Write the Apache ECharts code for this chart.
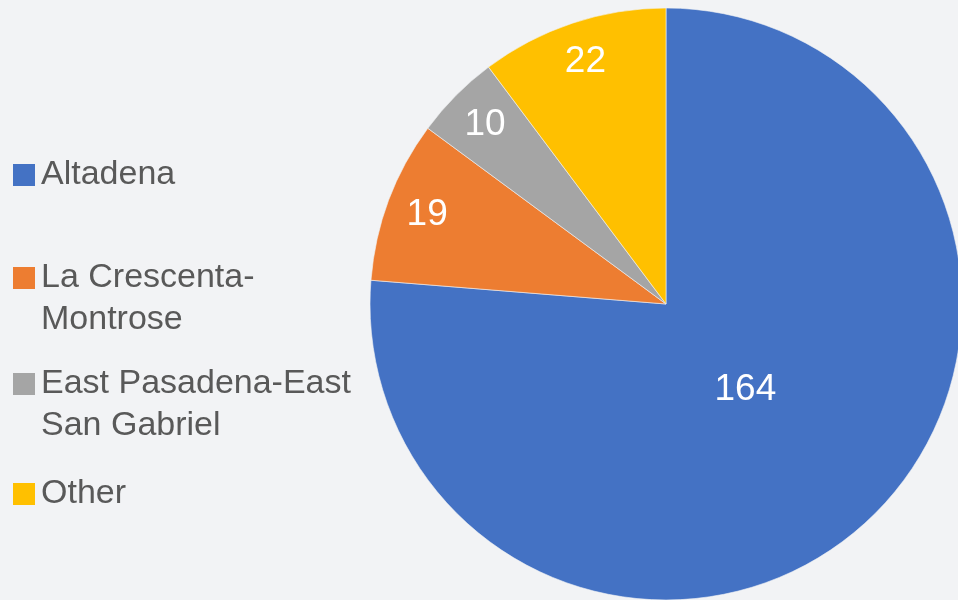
<!DOCTYPE html>
<html>
<head>
<meta charset="utf-8">
<script src="https://cdn.jsdelivr.net/npm/echarts@6/dist/echarts.min.js"></script>
<style>
  html, body { margin: 0; padding: 0; background: #f2f3f5; }
  #chart { width: 958px; height: 600px; }
</style>
</head>
<body>
<div id="chart"></div>
<script>
const categories = ['Altadena', 'La Crescenta-Montrose', 'East Pasadena-East San Gabriel', 'Other']
const legendLabels = ['Altadena', 'La Crescenta-\nMontrose', 'East Pasadena-East\nSan Gabriel', 'Other']
const values = [164, 19, 10, 22]
const colors = ['#4472c4', '#ed7d31', '#a5a5a5', '#ffc000']

const font = 'Liberation Sans'
const center = [666, 304]
const R = 296

const pieData = categories.map((name, i) => ({
  name,
  value: values[i],
  itemStyle: { color: colors[i] },
}))

// labels for the big slice sit near the middle, small ones near the rim
const labelSeries = (radius, showIdx) => ({
  type: 'pie',
  center,
  radius,
  startAngle: 90,
  silent: true,
  legendHoverLink: false,
  itemStyle: { color: 'transparent', borderWidth: 0 },
  emphasis: { disabled: true },
  labelLine: { show: false },
  data: categories.map((name, i) => ({
    name,
    value: values[i],
    itemStyle: { color: 'transparent' },
    label: { show: showIdx.includes(i) },
  })),
  label: {
    position: 'inside',
    color: '#ffffff',
    fontFamily: font,
    fontSize: 37,
    formatter: '{c}',
  },
})

// icon centre y for each legend row
const legendRows = [173, 280, 386, 492]
const legends = categories.map((name, i) => {
  const multi = legendLabels[i].includes('\n')
  // blank first line so the icon lines up with the first text line
  const text = multi ? ' \n' + legendLabels[i] : legendLabels[i]
  return {
    data: [name],
    left: 11,
    top: legendRows[i] - (multi ? 65 : 19),
    padding: 0,
    icon: 'rect',
    itemWidth: 24,
    itemHeight: 24,
    selectedMode: false,
    formatter: () => text,
    textStyle: {
      color: '#595959',
      fontFamily: font,
      fontSize: 34,
      lineHeight: 42,
    },
  }
})

const chart = echarts.init(document.getElementById('chart'))
chart.setOption({
  backgroundColor: '#f2f3f5',
  animation: false,
  legend: legends,
  series: [
    {
      type: 'pie',
      center,
      radius: R,
      startAngle: 90,
      label: { show: false },
      labelLine: { show: false },
      itemStyle: { borderColor: '#f2f3f5', borderWidth: 0.6 },
      data: pieData,
    },
    labelSeries([208, R], [1, 2, 3]),
    labelSeries([0, 228], [0]),
  ],
})
</script>
</body>
</html>
